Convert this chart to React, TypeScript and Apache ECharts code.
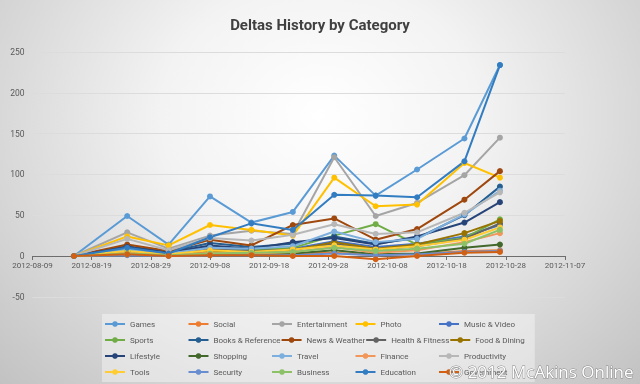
import React, { useEffect, useRef } from "react";
import * as echarts from "echarts";

const dates = ["2012-08-16", "2012-08-25", "2012-09-01", "2012-09-08", "2012-09-15", "2012-09-22", "2012-09-29", "2012-10-06", "2012-10-13", "2012-10-21", "2012-10-27"];

const categories = ["Games", "Social", "Entertainment", "Photo", "Music & Video", "Sports", "Books & Reference", "News & Weather", "Health & Fitness", "Food & Dining", "Lifestyle", "Shopping", "Travel", "Finance", "Productivity", "Tools", "Security", "Business", "Education", "Government"];

const games = [0, 49, 14, 73, 41, 54, 123, 74, 106, 144, 234];
const social = [0, 3, 1, 3, 2, 3, 4, 1, 2, 6, 7];
const entertainment = [0, 29, 9, 25, 31, 27, 121, 49, 65, 99, 145];
const photo = [0, 24, 13, 38, 32, 25, 96, 61, 63, 114, 96];
const musicVideo = [0, 9, 3, 11, 8, 9, 18, 11, 15, 24, 38];
const sports = [0, 5, 2, 6, 7, 10, 25, 39, 14, 22, 45];
const booksReference = [0, 12, 5, 16, 11, 15, 24, 15, 22, 50, 85];
const newsWeather = [0, 14, 6, 20, 13, 38, 46, 20, 33, 69, 104];
const healthFitness = [0, 6, 3, 8, 6, 8, 15, 8, 12, 21, 40];
const foodDining = [0, 5, 2, 5, 5, 7, 17, 9, 14, 28, 43];
const lifestyle = [0, 11, 4, 13, 9, 17, 22, 14, 24, 41, 66];
const shopping = [0, 2, 1, 2, 2, 3, 7, 2, 3, 10, 14];
const travel = [0, 8, 3, 10, 9, 12, 30, 17, 21, 51, 80];
const finance = [0, 4, 1, 4, 3, 5, 11, 4, 7, 17, 28];
const productivity = [0, 21, 7, 22, 19, 26, 39, 27, 29, 53, 78];
const tools = [0, 6, 2, 7, 5, 8, 13, 8, 12, 20, 35];
const security = [0, 1, 0, 1, 1, 1, 3, 1, 2, 5, 6];
const business = [0, 3, 1, 3, 4, 5, 10, 6, 9, 15, 32];
const education = [0, 10, 3, 23, 40, 32, 75, 74, 72, 116, 234];
const government = [0, 2, 0, 1, 1, 0, 0, -4, 0, 4, 5];

const seriesValues = [games, social, entertainment, photo, musicVideo, sports, booksReference, newsWeather, healthFitness, foodDining, lifestyle, shopping, travel, finance, productivity, tools, security, business, education, government];

const colors = ["#5B9BD5", "#ED7D31", "#A5A5A5", "#FFC000", "#4472C4", "#70AD47", "#255E91", "#9E480E", "#636363", "#997300", "#264478", "#43682B", "#7CAFDD", "#F1975A", "#B7B7B7", "#FFCD33", "#698ED0", "#8CC168", "#327DC2", "#D26012"];

const axisStart = "2012-08-09";
const axisEnd = "2012-11-07";
const yTicks = { min: -50, max: 250, interval: 50 };

const DAY = 86400000;
const origin = Date.parse(axisStart + "T00:00:00Z");
const toDay = (s: string) => Math.round((Date.parse(s + "T00:00:00Z") - origin) / DAY);
const fromDay = (d: number) => new Date(origin + d * DAY).toISOString().slice(0, 10);

export default function App() {
  const ref = useRef<HTMLDivElement>(null);
  useEffect(() => {
    if (!ref.current) return;
    const chart = echarts.init(ref.current, null, { renderer: "svg" });
    const font = "Roboto";
    const gridTop = 52;
    const gridBottom = 87.2;
    const plotH = 384 - gridTop - gridBottom;
    // distance from plot bottom (value -50) up to value 0
    const zeroOffset = (plotH * (0 - yTicks.min)) / (yTicks.max - yTicks.min);
    chart.setOption({
      animation: false,
      color: colors,
      title: {
        text: "Deltas History by Category",
        left: "center",
        top: 12,
        textStyle: { fontFamily: font, fontSize: 15, fontWeight: "bold", color: "#404040" },
      },
      grid: { left: 32.5, right: 75, top: gridTop, bottom: gridBottom, containLabel: false },
      xAxis: {
        type: "value",
        position: "bottom",
        offset: -zeroOffset,
        min: 0,
        max: toDay(axisEnd),
        interval: 10,
        axisLine: { onZero: false, lineStyle: { color: "#6d6d6d", width: 1 } },
        axisTick: { show: true, length: 4, lineStyle: { color: "#6d6d6d" } },
        axisLabel: {
          formatter: (v: number) => fromDay(v),
          fontFamily: font,
          fontSize: 8,
          color: "#595959",
          margin: 5,
          hideOverlap: false,
          showMinLabel: true,
          showMaxLabel: true,
        },
        splitLine: { show: false },
      },
      yAxis: {
        type: "value",
        min: yTicks.min,
        max: yTicks.max,
        interval: yTicks.interval,
        axisLine: { show: false },
        axisTick: { show: false },
        axisLabel: { fontFamily: font, fontSize: 8.5, color: "#595959", margin: 8 },
        splitLine: { lineStyle: { color: "#dcdcdc", width: 1 } },
      },
      legend: {
        left: 102,
        top: 314,
        width: 440,
        padding: [2, 2, 2, 2],
        itemWidth: 20,
        itemHeight: 7,
        itemGap: 0,
        backgroundColor: "rgba(255,255,255,0.38)",
        data: categories,
        textStyle: { fontFamily: font, fontSize: 8, color: "#595959", width: 57.5, lineHeight: 16, height: 16, overflow: "none" },
      },
      series: categories.map((name, i) => ({
        name,
        type: "line",
        data: dates.map((d, j) => [toDay(d), seriesValues[i][j]]),
        symbol: "circle",
        symbolSize: 6,
        lineStyle: { width: 2, color: colors[i] },
        itemStyle: { color: colors[i] },
      })),
      graphic: [
        {
          type: "text",
          right: 6,
          top: 362,
          z: 100,
          style: {
            text: "© 2012 McAkins Online",
            font: "17px 'Open Sans'",
            fill: "#ffffff",
            stroke: "#8a8a8a",
            lineWidth: 1,
          },
        },
      ],
    });
    return () => chart.dispose();
  }, []);
  return (
    <div
      ref={ref}
      style={{
        position: "fixed",
        left: 0,
        top: 0,
        width: 640,
        height: 384,
        background: "radial-gradient(ellipse at 50% 30%, #ffffff 0%, #f3f3f3 35%, #c2c2c2 100%)",
      }}
    />
  );
}
